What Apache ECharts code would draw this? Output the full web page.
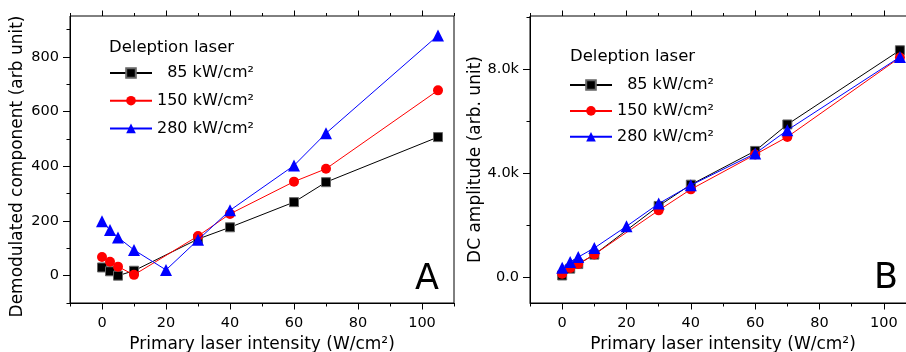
<!DOCTYPE html>
<html>
<head>
<meta charset="utf-8">
<script src="https://cdn.jsdelivr.net/npm/echarts@6/dist/echarts.min.js"></script>
<style>
  html, body { margin: 0; padding: 0; background: #fff; }
  #chart { width: 906px; height: 352px; }
</style>
</head>
<body>
<div id="chart"></div>
<script>
// Primary laser intensity (W/cm²) at which each point was measured
const intensity = [0, 2.5, 5, 10, 20, 30, 40, 60, 70, 105];

// Legend entries: depletion laser intensity
const seriesNames = ['  85 kW/cm²', '150 kW/cm²', '280 kW/cm²'];

// Panel A: demodulated component (arb unit); null = not measured
const demod85  = [30, 16, 0, 18, null, 134, 177, 269, 342, 507];
const demod150 = [68, 51, 33, 3, null, 145, 226, 344, 391, 678];
const demod280 = [199, 167, 140, 94, 21, 131, 239, 403, 521, 879];

// Panel B: DC amplitude (arb. unit)
const dc85  = [60, 324, 500, 864, null, 2740, 3560, 4860, 5880, 8740];
const dc150 = [130, 350, 500, 870, null, 2570, 3380, 4720, 5400, 8460];
const dc280 = [360, 580, 770, 1120, 1955, 2830, 3540, 4760, 5660, 8480];

// Tick positions and labels
const xLabels = [0, 20, 40, 60, 80, 100];
const xMinor = [-10, 0, 10, 20, 30, 40, 50, 60, 70, 80, 90, 100, 110];
const yLabelsA = [0, 200, 400, 600, 800];
const yMinorA = [-100, 0, 100, 200, 300, 400, 500, 600, 700, 800, 900];
const yLabelsB = [0, 4000, 8000];
const yMinorB = [0, 2000, 4000, 6000, 8000, 10000];

const FONT = 'DejaVu Sans, Liberation Sans, Arial, sans-serif';
const BLACK = '#000';
const TICK_FONT = 14.5;
const NAME_FONT = 17;
const LEGEND_FONT = 16;

function pairs(values) {
  return intensity.map((x, i) => [x, values[i]]);
}

const styles = [
  { color: '#000000', symbol: 'rect', symbolSize: 9, itemStyle: { color: '#000', borderColor: '#666', borderWidth: 1 } },
  { color: '#ff0000', symbol: 'circle', symbolSize: 10, itemStyle: { color: '#ff0000' } },
  { color: '#0000ff', symbol: 'triangle', symbolSize: 12, itemStyle: { color: '#0000ff' } }
];

function makeSeries(values, idx, xIdx, yIdx) {
  const s = styles[idx];
  return {
    name: seriesNames[idx],
    type: 'line',
    xAxisIndex: xIdx,
    yAxisIndex: yIdx,
    data: pairs(values),
    connectNulls: true,
    symbol: s.symbol,
    symbolSize: s.symbolSize,
    showSymbol: true,
    lineStyle: { color: s.color, width: 1 },
    itemStyle: s.itemStyle,
    color: s.color,
    z: 2 + idx,
    animation: false
  };
}

// x axes: data axis (bottom, minor ticks + labels), bottom major ticks,
// top minor ticks, top major ticks
function xAxesFor(gridIndex) {
  const base = { type: 'value', gridIndex, min: -10, max: 110, splitLine: { show: false } };
  return [
    Object.assign({}, base, {
      position: 'bottom',
      axisLine: { show: true, onZero: false, lineStyle: { color: BLACK, width: 1 } },
      axisTick: { show: true, customValues: xMinor, length: 3.5, lineStyle: { color: BLACK } },
      axisLabel: { customValues: xLabels, margin: 13, color: BLACK, fontSize: TICK_FONT, fontFamily: FONT },
      name: 'Primary laser intensity (W/cm²)',
      nameLocation: 'middle',
      nameGap: 32,
      nameTextStyle: { color: BLACK, fontSize: NAME_FONT, fontFamily: FONT }
    }),
    Object.assign({}, base, {
      position: 'bottom', offset: 0,
      axisLine: { show: false, onZero: false },
      axisTick: { show: true, customValues: xLabels, length: 6.5, lineStyle: { color: BLACK } },
      axisLabel: { show: false }
    }),
    Object.assign({}, base, {
      position: 'top', offset: 0,
      axisLine: { show: false, onZero: false },
      axisTick: { show: true, customValues: xMinor, length: 3, lineStyle: { color: BLACK } },
      axisLabel: { show: false }
    }),
    Object.assign({}, base, {
      position: 'top', offset: 0,
      axisLine: { show: false, onZero: false },
      axisTick: { show: true, customValues: xLabels, length: 5.5, lineStyle: { color: BLACK } },
      axisLabel: { show: false }
    })
  ];
}

function yAxesFor(gridIndex, min, max, minorTicks, labels, name, nameGap, namePadding, formatter) {
  const base = { type: 'value', gridIndex, min, max, position: 'left', offset: 0, splitLine: { show: false } };
  return [
    Object.assign({}, base, {
      axisLine: { show: true, onZero: false, lineStyle: { color: BLACK, width: 1 } },
      axisTick: { show: true, customValues: minorTicks, length: 3.5, lineStyle: { color: BLACK } },
      axisLabel: { customValues: labels, margin: 11, color: BLACK, fontSize: TICK_FONT, fontFamily: FONT, formatter },
      name,
      nameLocation: 'middle',
      nameGap,
      nameTextStyle: { color: BLACK, fontSize: NAME_FONT, fontFamily: FONT, padding: namePadding }
    }),
    Object.assign({}, base, {
      axisLine: { show: false, onZero: false },
      axisTick: { show: true, customValues: labels, length: 7, lineStyle: { color: BLACK } },
      axisLabel: { show: false }
    })
  ];
}

const xAxes = xAxesFor(0).concat(xAxesFor(1));
const yAxes = yAxesFor(0, -100, 950, yMinorA, yLabelsA, 'Demodulated component (arb unit)', 44, [0, 14, 0, 0], v => String(v))
  .concat(yAxesFor(1, -1000, 10060, yMinorB, yLabelsB, 'DC amplitude (arb. unit)', 45, 0,
    v => v === 0 ? '0.0' : (v / 1000).toFixed(1) + 'k'));

const legendText = { color: BLACK, fontSize: LEGEND_FONT, fontFamily: FONT, lineHeight: 20 };
const headStyle = { color: BLACK, fontSize: 16.5, fontWeight: 'normal', fontFamily: FONT, lineHeight: 20 };
const letterStyle = { color: BLACK, fontSize: 35, fontWeight: 'normal', fontFamily: FONT, lineHeight: 36 };

const option = {
  backgroundColor: '#fff',
  animation: false,
  grid: [
    { left: 70, top: 16, right: 452, bottom: 49, outerBoundsMode: 'none',
      show: true, borderColor: BLACK, borderWidth: 1, backgroundColor: 'transparent' },
    { left: 530, top: 16, width: 386, bottom: 49, outerBoundsMode: 'none',
      show: true, borderColor: BLACK, borderWidth: 1, backgroundColor: 'transparent' }
  ],
  xAxis: xAxes,
  yAxis: yAxes,
  title: [
    { text: 'Deleption laser', left: 109, top: 38, padding: 0, textStyle: headStyle },
    { text: 'Deleption laser', left: 570, top: 47, padding: 0, textStyle: headStyle },
    { text: 'A', left: 415, top: 262, padding: 0, textStyle: letterStyle },
    { text: 'B', left: 874, top: 261, padding: 0, textStyle: letterStyle }
  ],
  legend: [
    { data: seriesNames, orient: 'vertical', left: 109, top: 63, padding: 0,
      itemWidth: 42, itemHeight: 12, itemGap: 7.7, textStyle: legendText,
      selectedMode: false },
    { data: seriesNames, orient: 'vertical', left: 569, top: 75, padding: 0,
      itemWidth: 42, itemHeight: 12, itemGap: 5.9, textStyle: legendText,
      selectedMode: false }
  ],
  series: [
    // panel A: x axis 0, y axis 0
    makeSeries(demod85, 0, 0, 0),
    makeSeries(demod150, 1, 0, 0),
    makeSeries(demod280, 2, 0, 0),
    // panel B: x axis 4, y axis 2
    makeSeries(dc85, 0, 4, 2),
    makeSeries(dc150, 1, 4, 2),
    makeSeries(dc280, 2, 4, 2)
  ]
};

const chart = echarts.init(document.getElementById('chart'), null, { renderer: 'canvas' });
chart.setOption(option);
</script>
</body>
</html>
